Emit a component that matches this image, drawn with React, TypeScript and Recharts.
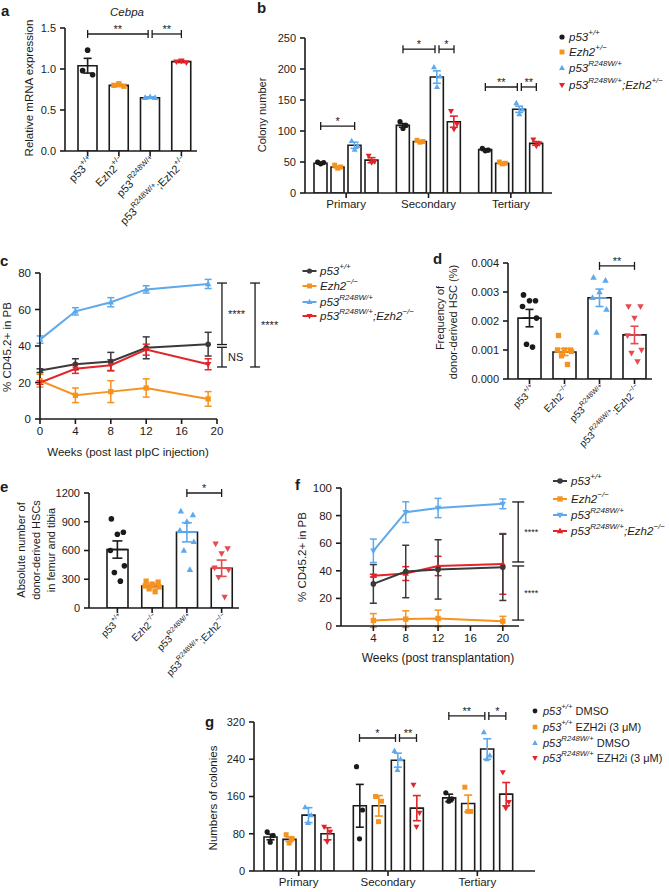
import React from 'react';
import { ComposedChart, Bar, Line, Scatter, XAxis, YAxis, ErrorBar, ReferenceLine } from 'recharts';

const FONT = '"Liberation Sans", Arial, Helvetica, sans-serif';
const SW = 669;
const SH = 1000;
const INK = '#1b1b1b';
const DARK = '#3a3a3a';
const ORANGE = '#f6921e';
const BLUE = '#5da9ec';
const RED = '#e2242b';
const RED_SOFT = '#e84a51';

const KINDS = ['circle', 'square', 'up', 'down'];

// a: Cebpa expression
const aNames = ['p53^+/+', 'Ezh2^+/−', 'p53^R248W/+', 'p53^R248W/+;Ezh2^+/−'];
const aMean = [1.04, 0.8, 0.65, 1.09];
const aSem = [0.09, 0.015, 0.01, 0.012];
const aPts = [[1.23, 0.98, 0.93], [0.82, 0.8, 0.79], [0.66, 0.65, 0.65], [1.1, 1.09, 1.08]];
const aTicks = [0, 0.5, 1, 1.5];

// b: colony number
const bCats = ['Primary', 'Secondary', 'Tertiary'];
const bP53 = [48, 109, 70];
const bEzh2 = [42, 83, 48];
const bR248 = [77, 187, 135];
const bDouble = [53, 115, 80];
const bP53Sem = [1.5, 3, 1.5];
const bEzh2Sem = [1.5, 1, 1];
const bR248Sem = [5, 10, 5];
const bDoubleSem = [4, 9, 3];
const bP53Pts = [[50, 49, 47], [115, 109, 104], [72, 69, 68]];
const bEzh2Pts = [[45, 42, 40], [85, 83, 82], [50, 48, 47]];
const bR248Pts = [[84, 76, 70], [203, 188, 171], [145, 135, 127]];
const bDoublePts = [[60, 51, 49], [132, 111, 103], [86, 80, 76]];
const bTicks = [0, 50, 100, 150, 200, 250];

// c: % CD45.2+ after pIpC
const cWeeks = [0, 4, 8, 12, 19];
const cP53 = [26.5, 30, 31.5, 39, 41];
const cP53Err = [1, 3, 5, 6, 6.5];
const cEzh2 = [21, 13, 15, 17, 11];
const cEzh2Err = [3.5, 4, 6, 5, 4];
const cR248 = [43.5, 59, 64, 71, 74];
const cR248Err = [2, 2, 2.5, 2, 2.5];
const cDouble = [20, 27.5, 29.5, 38, 30];
const cDoubleErr = [1, 2.5, 3, 3, 3];
const cXTicks = [0, 4, 8, 12, 16, 20];
const cYTicks = [0, 20, 40, 60, 80];

// d: frequency of donor-derived HSC
const dNames = ['p53^+/+', 'Ezh2^−/−', 'p53^R248W/+', 'p53^R248W/+;Ezh2^−/−'];
const dMean = [0.0021, 0.00093, 0.0028, 0.00152];
const dSem = [0.0003, 0.00012, 0.0003, 0.0003];
const dPts = [
  [0.0029, 0.0027, 0.0027, 0.0025, 0.0021, 0.0012, 0.0011],
  [0.0015, 0.001, 0.001, 0.001, 0.00095, 0.0008, 0.0005],
  [0.0035, 0.0034, 0.003, 0.0028, 0.0024, 0.0016],
  [0.0025, 0.0025, 0.0021, 0.0015, 0.001, 0.0009, 0.0006],
];
const dTicks = [0, 0.001, 0.002, 0.003, 0.004];

// e: absolute number of donor-derived HSCs
const eNames = ['p53^+/+', 'Ezh2^−/−', 'p53^R248W/+', 'p53^R248W/+;Ezh2^−/−'];
const eMean = [610, 230, 790, 415];
const eSem = [90, 20, 100, 85];
const ePts = [
  [930, 790, 770, 600, 440, 370, 280],
  [280, 270, 250, 230, 220, 200, 170],
  [1010, 970, 900, 810, 690, 600, 400],
  [670, 620, 570, 420, 400, 320, 115],
];
const eTicks = [0, 300, 600, 900, 1200];

// f: % CD45.2+ after transplantation
const fWeeks = [4, 8, 12, 20];
const fP53 = [30.5, 39.5, 41, 42.5];
const fP53Err = [14, 19, 21.5, 24];
const fEzh2 = [4, 5, 5.5, 3.5];
const fEzh2Err = [5, 6, 6, 3.5];
const fR248 = [54.5, 82.5, 85.5, 88.5];
const fR248Err = [8.5, 7.5, 7, 3.5];
const fDouble = [36.5, 38, 43.5, 45];
const fDoubleErr = [1, 5, 7, 22];
const fXTicks = [4, 8, 12, 16, 20];
const fYTicks = [0, 20, 40, 60, 80, 100];

// g: colonies with EZH2 inhibitor
const gCats = ['Primary', 'Secondary', 'Tertiary'];
const gP53Dmso = [73, 140, 157];
const gP53Ezh2i = [68, 140, 145];
const gR248Dmso = [120, 238, 262];
const gR248Ezh2i = [80, 135, 165];
const gP53DmsoSem = [6, 46, 8];
const gP53Ezh2iSem = [5, 22, 18];
const gR248DmsoSem = [16, 15, 22];
const gR248Ezh2iSem = [13, 27, 25];
const gP53DmsoPts = [[84, 76, 62], [224, 131, 69], [168, 155, 150]];
const gP53Ezh2iPts = [[78, 70, 60], [160, 150, 106], [180, 128, 128]];
const gR248DmsoPts = [[137, 120, 103], [258, 240, 217], [298, 248, 240]];
const gR248Ezh2iPts = [[95, 84, 63], [185, 125, 95], [212, 148, 135]];
const gTicks = [0, 80, 160, 240, 320];

const legendPlain = ['p53^+/+', 'Ezh2^+/−', 'p53^R248W/+', 'p53^R248W/+;Ezh2^+/−'];
const legendKO = ['p53^+/+', 'Ezh2^−/−', 'p53^R248W/+', 'p53^R248W/+;Ezh2^−/−'];
const legendDrug = ['p53^+/+| DMSO', 'p53^+/+| EZH2i (3 μM)', 'p53^R248W/+| DMSO', 'p53^R248W/+| EZH2i (3 μM)'];

const axisLine = { stroke: INK, strokeWidth: 1.6 };

function parse(label: string) {
  const parts: { t: string; sup: boolean; up: boolean }[] = [];
  let buf = '';
  let sup = false;
  let up = false;
  for (const ch of label) {
    if (ch === '^') {
      if (buf) parts.push({ t: buf, sup, up });
      buf = '';
      sup = true;
      continue;
    }
    if (ch === '|') {
      if (buf) parts.push({ t: buf, sup, up });
      buf = '';
      sup = false;
      up = true;
      continue;
    }
    if (sup && (ch === ';' || ch === ' ')) {
      parts.push({ t: buf, sup, up });
      buf = '';
      sup = false;
    }
    buf += ch;
  }
  if (buf) parts.push({ t: buf, sup, up });
  return parts;
}

function spans(label: string, fs: number) {
  let shift = 0;
  return parse(label).map((p, i) => {
    const target = p.sup ? -0.42 * fs : 0;
    const dy = target - shift;
    shift = target;
    return (
      <tspan key={i} dy={dy} fontSize={p.sup ? fs * 0.7 : fs} fontStyle={p.up ? 'normal' : undefined}>
        {p.t}
      </tspan>
    );
  });
}

function Marker({ kind, cx, cy, color, s }: { kind: string; cx: number; cy: number; color: string; s: number }) {
  if (kind === 'circle') return <circle cx={cx} cy={cy} r={s} fill={color} />;
  if (kind === 'square') return <rect x={cx - s * 0.95} y={cy - s * 0.95} width={s * 1.9} height={s * 1.9} fill={color} />;
  if (kind === 'up')
    return <path d={`M${cx},${cy - s * 1.25}L${cx + s * 1.15},${cy + s * 0.8}L${cx - s * 1.15},${cy + s * 0.8}Z`} fill={color} />;
  return <path d={`M${cx},${cy + s * 1.25}L${cx + s * 1.15},${cy - s * 0.8}L${cx - s * 1.15},${cy - s * 0.8}Z`} fill={color} />;
}

function RotTick(props: any) {
  const { x, y, payload, fs } = props;
  const ax = x + 4;
  const ay = y + 1;
  return (
    <text x={ax} y={ay} transform={`rotate(-45 ${ax} ${ay})`} textAnchor="end" dominantBaseline="central" fontSize={fs} fill={INK}>
      {spans(String(payload.value), fs)}
    </text>
  );
}

function hBracket(key: string, xa: number, xb: number, y: number, text: string, capY: number, fs: number) {
  const common = { stroke: INK, strokeWidth: 1.3, ifOverflow: 'visible' as const, xAxisId: 'n' };
  return [
    <ReferenceLine
      key={key + 'h'}
      {...common}
      segment={[{ x: xa, y }, { x: xb, y }]}
      label={{ value: text, position: 'top', offset: 1, fill: INK, fontSize: fs }}
    />,
    <ReferenceLine key={key + 'a'} {...common} segment={[{ x: xa, y: y - capY }, { x: xa, y: y + capY }]} />,
    <ReferenceLine key={key + 'b'} {...common} segment={[{ x: xb, y: y - capY }, { x: xb, y: y + capY }]} />,
  ];
}

function vBracket(key: string, x: number, ya: number, yb: number, text: string, capX: number, fs: number) {
  const common = { stroke: INK, strokeWidth: 1.3, ifOverflow: 'visible' as const };
  return [
    <ReferenceLine
      key={key + 'v'}
      {...common}
      segment={[{ x, y: ya }, { x, y: yb }]}
      label={{ value: text, position: 'right', offset: 6, fill: INK, fontSize: fs }}
    />,
    <ReferenceLine key={key + 'a'} {...common} segment={[{ x: x - capX, y: ya }, { x: x + capX, y: ya }]} />,
    <ReferenceLine key={key + 'b'} {...common} segment={[{ x: x - capX, y: yb }, { x: x + capX, y: yb }]} />,
  ];
}

type Sig = { from: number; to: number; y: number; text: string };

function SingleBars(props: any) {
  const { names, mean, sem, pts, box, padL, yMax, yTicks, fmt, barSize, cap, meanHalf, colors, ms, jit, sig, sigFs, tickFs } = props;
  const [x0, y0, x1, y1] = box;
  const yw = 40;
  const xh = 60;
  const pad = { left: padL, right: 0 };
  const rows = names.map((name: string, i: number) => ({ name, v: mean[i] }));
  const upp = names.length / (x1 - x0 - padL);
  const capY = (4 * yMax) / (y1 - y0);
  const shared = (i: number) => sig.filter((s: Sig) => s.from === i || s.to === i).length > 1;
  return (
    <div style={{ position: 'absolute', left: 0, top: 0 }}>
      <ComposedChart width={SW} height={SH} data={rows} margin={{ top: y0, left: x0 - yw, right: SW - x1, bottom: SH - y1 - xh }}>
        <XAxis
          dataKey="name"
          height={xh}
          padding={pad}
          axisLine={axisLine}
          tickLine={axisLine}
          tickSize={5}
          interval={0}
          tick={(t: any) => <RotTick {...t} fs={tickFs} />}
        />
        <XAxis xAxisId="n" dataKey="x" type="number" domain={[0, names.length]} allowDataOverflow hide padding={pad} />
        <YAxis
          width={yw}
          domain={[0, yMax]}
          ticks={yTicks}
          interval={0}
          allowDataOverflow
          tickFormatter={fmt}
          axisLine={axisLine}
          tickLine={axisLine}
          tickSize={5}
          tickMargin={4}
          tick={{ fill: INK, fontSize: 11 }}
        />
        <Bar dataKey="v" fill="#ffffff" stroke={INK} strokeWidth={1.6} barSize={barSize} isAnimationActive={false} />
        {mean.map((m: number, i: number) => (
          <Scatter
            key={'m' + i}
            xAxisId="n"
            dataKey="y"
            data={[{ x: i + 0.5, y: m, e: sem[i] }]}
            isAnimationActive={false}
            shape={(p: any) =>
              meanHalf > 0 ? (
                <line x1={p.cx - meanHalf} x2={p.cx + meanHalf} y1={p.cy} y2={p.cy} stroke={colors[i]} strokeWidth={1.6} />
              ) : (
                <g />
              )
            }
          >
            <ErrorBar dataKey="e" direction="y" width={cap} stroke={colors[i]} strokeWidth={1.6} />
          </Scatter>
        ))}
        {pts.map((list: number[], i: number) => (
          <Scatter
            key={'p' + i}
            xAxisId="n"
            dataKey="y"
            data={list.map((y, k) => ({ x: i + 0.5, y, k }))}
            isAnimationActive={false}
            shape={(p: any) => <Marker kind={KINDS[i]} cx={p.cx + jit[p.payload.k % jit.length]} cy={p.cy} color={colors[i]} s={ms} />}
          />
        ))}
        {sig.flatMap((b: Sig, i: number) => {
          const xa = b.from + 0.5 + (shared(b.from) ? 2 * upp : 0);
          const xb = b.to + 0.5 - (shared(b.to) ? 2 * upp : 0);
          return hBracket('s' + i, xa, xb, b.y, b.text, capY, sigFs);
        })}
      </ComposedChart>
    </div>
  );
}

type GSig = { g: number; from: number; to: number; y: number; text: string; na?: number; nb?: number };

function GroupBars(props: any) {
  const { means, sems, pts, box, padR, yMax, yTicks, barSize, gap, colors, ms, jit, sig, sigFs, cats } = props;
  const [x0, y0, x1, y1] = box;
  const yw = 40;
  const xh = 20;
  const pad = { left: 0, right: padR };
  const band = (x1 - x0 - padR) / cats.length;
  const step = barSize + gap;
  const off = (s: number) => (s - (means.length - 1) / 2) * step;
  const capY = (4 * yMax) / (y1 - y0);
  const rows = cats.map((name: string, g: number) => {
    const r: any = { name };
    means.forEach((m: number[], s: number) => {
      r['m' + s] = m[g];
      r['e' + s] = sems[s][g];
    });
    return r;
  });
  return (
    <div style={{ position: 'absolute', left: 0, top: 0 }}>
      <ComposedChart
        width={SW}
        height={SH}
        data={rows}
        barGap={gap}
        margin={{ top: y0, left: x0 - yw, right: SW - x1, bottom: SH - y1 - xh }}
      >
        <XAxis dataKey="name" height={xh} padding={pad} axisLine={axisLine} tickLine={axisLine} tickSize={5} interval={0} tick={{ fill: INK, fontSize: 11.5 }} />
        <XAxis xAxisId="n" dataKey="x" type="number" domain={[0, cats.length]} allowDataOverflow hide padding={pad} />
        <YAxis
          width={yw}
          domain={[0, yMax]}
          ticks={yTicks}
          interval={0}
          allowDataOverflow
          axisLine={axisLine}
          tickLine={axisLine}
          tickSize={5}
          tickMargin={4}
          tick={{ fill: INK, fontSize: 11 }}
        />
        {means.map((_: number[], s: number) => (
          <Bar key={'b' + s} dataKey={'m' + s} barSize={barSize} fill="#ffffff" stroke={INK} strokeWidth={1.6} isAnimationActive={false}>
            <ErrorBar dataKey={'e' + s} direction="y" width={4} stroke={colors[s]} strokeWidth={1.6} />
          </Bar>
        ))}
        {pts.map((perGroup: number[][], s: number) => (
          <Scatter
            key={'p' + s}
            xAxisId="n"
            dataKey="y"
            data={perGroup.flatMap((vals, g) => vals.map((y, k) => ({ x: g + 0.5, y, k })))}
            isAnimationActive={false}
            shape={(p: any) => (
              <Marker kind={KINDS[s]} cx={p.cx + off(s) + jit[p.payload.k % jit.length]} cy={p.cy} color={colors[s]} s={ms} />
            )}
          />
        ))}
        {sig.flatMap((b: GSig, i: number) => {
          const xa = b.g + 0.5 + (off(b.from) + (b.na ?? 0)) / band;
          const xb = b.g + 0.5 + (off(b.to) + (b.nb ?? 0)) / band;
          return hBracket('s' + i, xa, xb, b.y, b.text, capY, sigFs);
        })}
      </ComposedChart>
    </div>
  );
}

function LinePanel(props: any) {
  const { xs, series, errs, order, box, xMax, xTicks, yMax, yTicks, colors, kinds, ms, vsig, sigFs, capPx } = props;
  const [x0, y0, x1, y1] = box;
  const yw = 40;
  const xh = 30;
  const capX = (capPx * xMax) / (x1 - x0);
  const rows = xs.map((w: number, i: number) => {
    const r: any = { w };
    series.forEach((s: number[], k: number) => {
      r['s' + k] = s[i];
      r['e' + k] = errs[k][i];
    });
    return r;
  });
  return (
    <div style={{ position: 'absolute', left: 0, top: 0 }}>
      <ComposedChart width={SW} height={SH} data={rows} margin={{ top: y0, left: x0 - yw, right: SW - x1, bottom: SH - y1 - xh }}>
        <XAxis
          dataKey="w"
          type="number"
          domain={[0, xMax]}
          ticks={xTicks}
          interval={0}
          allowDataOverflow
          height={xh}
          axisLine={axisLine}
          tickLine={axisLine}
          tickSize={5}
          tickMargin={3}
          tick={{ fill: INK, fontSize: 11.5 }}
        />
        <YAxis
          width={yw}
          domain={[0, yMax]}
          ticks={yTicks}
          interval={0}
          allowDataOverflow
          axisLine={axisLine}
          tickLine={axisLine}
          tickSize={5}
          tickMargin={4}
          tick={{ fill: INK, fontSize: 11.5 }}
        />
        {order.map((k: number) => (
          <Line
            key={'l' + k}
            dataKey={'s' + k}
            stroke={colors[k]}
            strokeWidth={2}
            isAnimationActive={false}
            activeDot={false}
            dot={(d: any) => <Marker key={'d' + k + '-' + d.index} kind={kinds[k]} cx={d.cx} cy={d.cy} color={colors[k]} s={ms} />}
          >
            <ErrorBar dataKey={'e' + k} direction="y" width={3.5} stroke={colors[k]} strokeWidth={1.5} />
          </Line>
        ))}
        {vsig.flatMap((b: any, i: number) => vBracket('v' + i, b.x, b.ya, b.yb, b.text, capX, sigFs))}
      </ComposedChart>
    </div>
  );
}

function Txt({ x, y, fs = 11, rot = 0, italic = false, bold = false, anchor = 'middle', children }: any) {
  return (
    <text
      x={x}
      y={y}
      fontSize={fs}
      textAnchor={anchor}
      dominantBaseline="central"
      fontStyle={italic ? 'italic' : 'normal'}
      fontWeight={bold ? 'bold' : 'normal'}
      transform={rot ? `rotate(${rot} ${x} ${y})` : undefined}
      fill={INK}
    >
      {children}
    </text>
  );
}

function Legend({ labels, colors, kinds, mx, tx, rows, fs, ms, half }: any) {
  return (
    <g>
      {labels.map((lab: string, i: number) => (
        <g key={i}>
          {half ? <line x1={mx - half} x2={mx + half} y1={rows[i]} y2={rows[i]} stroke={colors[i]} strokeWidth={2} /> : null}
          <Marker kind={kinds[i]} cx={mx} cy={rows[i]} color={colors[i]} s={ms} />
          <text x={tx} y={rows[i]} fontSize={fs} fontStyle="italic" dominantBaseline="central" fill={INK}>
            {spans(lab, fs)}
          </text>
        </g>
      ))}
    </g>
  );
}

function Overlay() {
  return (
    <svg width={SW} height={892} style={{ position: 'absolute', left: 0, top: 0, pointerEvents: 'none' }}>
      <Txt x={1} y={10} fs={15} bold anchor="start">a</Txt>
      <Txt x={257} y={7} fs={15} bold anchor="start">b</Txt>
      <Txt x={0} y={260} fs={15} bold anchor="start">c</Txt>
      <Txt x={433} y={258} fs={15} bold anchor="start">d</Txt>
      <Txt x={0} y={486} fs={15} bold anchor="start">e</Txt>
      <Txt x={295} y={484} fs={15} bold anchor="start">f</Txt>
      <Txt x={205} y={721} fs={15} bold anchor="start">g</Txt>

      <Txt x={127} y={12} fs={11.5} italic>Cebpa</Txt>
      <Txt x={29} y={88} fs={11.5} rot={-90}>Relative mRNA expression</Txt>
      <Txt x={262} y={115} fs={11} rot={-90}>Colony number</Txt>
      <Txt x={7} y={347} fs={11.5} rot={-90}>% CD45.2+ in PB</Txt>
      <Txt x={128} y={452} fs={11.5}>Weeks (post last pIpC injection)</Txt>
      <Txt x={440} y={318} fs={11} rot={-90}>Frequency of</Txt>
      <Txt x={453} y={322} fs={11} rot={-90}>donor-derived HSC (%)</Txt>
      <Txt x={21} y={550} fs={11} rot={-90}>Absolute number of</Txt>
      <Txt x={36} y={550} fs={11} rot={-90}>donor-derived HSCs</Txt>
      <Txt x={51} y={550} fs={11} rot={-90}>in femur and tibia</Txt>
      <Txt x={302} y={557} fs={11.5} rot={-90}>% CD45.2+ in PB</Txt>
      <Txt x={438} y={658} fs={12}>Weeks (post transplantation)</Txt>
      <Txt x={213} y={798} fs={11.5} rot={-90}>Numbers of colonies</Txt>

      <Legend labels={legendPlain} colors={[INK, ORANGE, BLUE, RED]} kinds={KINDS} mx={562} tx={569} rows={[37, 52, 68, 85]} fs={11.5} ms={2.6} />
      <Legend labels={legendKO} colors={[DARK, ORANGE, BLUE, RED]} kinds={KINDS} mx={309.5} tx={320} rows={[271, 286, 302, 316]} fs={11.5} ms={2.6} half={7} />
      <Legend
        labels={legendKO}
        colors={[DARK, ORANGE, BLUE, RED]}
        kinds={['circle', 'square', 'down', 'up']}
        mx={560}
        tx={571}
        rows={[481, 499, 515, 531]}
        fs={11.5}
        ms={2.8}
        half={7}
      />
      <Legend labels={legendDrug} colors={[INK, ORANGE, BLUE, RED]} kinds={KINDS} mx={535} tx={543} rows={[711, 727, 743, 758]} fs={11} ms={2.4} />
    </svg>
  );
}

export default function App() {
  return (
    <div style={{ position: 'absolute', left: 0, top: 0, width: SW, height: 892, overflow: 'hidden', background: '#ffffff', fontFamily: FONT }}>
      <SingleBars
        names={aNames}
        mean={aMean}
        sem={aSem}
        pts={aPts}
        box={[65, 28, 197, 151]}
        padL={7}
        yMax={1.5}
        yTicks={aTicks}
        fmt={(v: number) => v.toFixed(1)}
        barSize={19}
        cap={4}
        meanHalf={0}
        colors={[INK, ORANGE, BLUE, RED]}
        ms={2.8}
        jit={[0, -5, 5]}
        sig={[
          { from: 0, to: 2, y: 1.427, text: '**' },
          { from: 2, to: 3, y: 1.427, text: '**' },
        ]}
        sigFs={11}
        tickFs={11}
      />
      <GroupBars
        cats={bCats}
        means={[bP53, bEzh2, bR248, bDouble]}
        sems={[bP53Sem, bEzh2Sem, bR248Sem, bDoubleSem]}
        pts={[bP53Pts, bEzh2Pts, bR248Pts, bDoublePts]}
        box={[305, 38, 552, 193]}
        padR={0}
        yMax={250}
        yTicks={bTicks}
        barSize={13}
        gap={4}
        colors={[INK, ORANGE, BLUE, RED]}
        ms={2.6}
        jit={[-3, 3, 0]}
        sig={[
          { g: 0, from: 0, to: 2, y: 108, text: '*' },
          { g: 1, from: 0, to: 2, y: 232, text: '*', nb: -2 },
          { g: 1, from: 2, to: 3, y: 232, text: '*', na: 2 },
          { g: 2, from: 0, to: 2, y: 171, text: '**', nb: -2 },
          { g: 2, from: 2, to: 3, y: 171, text: '**', na: 2 },
        ]}
        sigFs={11}
      />
      <LinePanel
        xs={cWeeks}
        series={[cP53, cEzh2, cR248, cDouble]}
        errs={[cP53Err, cEzh2Err, cR248Err, cDoubleErr]}
        order={[0, 1, 2, 3]}
        box={[40, 273, 217, 419]}
        xMax={20}
        xTicks={cXTicks}
        yMax={80}
        yTicks={cYTicks}
        colors={[DARK, ORANGE, BLUE, RED]}
        kinds={['circle', 'square', 'up', 'down']}
        ms={2.8}
        vsig={[
          { x: 20.56, ya: 74.5, yb: 40.8, text: '****' },
          { x: 20.56, ya: 39.3, yb: 28.5, text: 'NS' },
          { x: 24.3, ya: 74.5, yb: 28.5, text: '****' },
        ]}
        sigFs={11}
        capPx={5}
      />
      <SingleBars
        names={dNames}
        mean={dMean}
        sem={dSem}
        pts={dPts}
        box={[508, 263, 652, 379]}
        padL={4}
        yMax={0.004}
        yTicks={dTicks}
        fmt={(v: number) => v.toFixed(3)}
        barSize={23}
        cap={4}
        meanHalf={7}
        colors={[INK, ORANGE, BLUE, RED_SOFT]}
        ms={2.8}
        jit={[-6, 6, 0, -7, 7, -3, 3]}
        sig={[{ from: 2, to: 3, y: 0.0039, text: '**' }]}
        sigFs={11}
        tickFs={10}
      />
      <SingleBars
        names={eNames}
        mean={eMean}
        sem={eSem}
        pts={ePts}
        box={[89, 493, 239, 608]}
        padL={11}
        yMax={1200}
        yTicks={eTicks}
        barSize={21}
        cap={5}
        meanHalf={10}
        colors={[INK, ORANGE, BLUE, RED_SOFT]}
        ms={2.8}
        jit={[-6, 6, 0, -7, 7, -3, 3]}
        sig={[{ from: 2, to: 3, y: 1200, text: '*' }]}
        sigFs={11}
        tickFs={10}
      />
      <LinePanel
        xs={fWeeks}
        series={[fP53, fEzh2, fR248, fDouble]}
        errs={[fP53Err, fEzh2Err, fR248Err, fDoubleErr]}
        order={[3, 1, 2, 0]}
        box={[341, 488, 519, 626]}
        xMax={22}
        xTicks={fXTicks}
        yMax={100}
        yTicks={fYTicks}
        colors={[DARK, ORANGE, BLUE, RED]}
        kinds={['circle', 'square', 'down', 'up']}
        ms={2.8}
        vsig={[
          { x: 21.9, ya: 89.9, yb: 46.4, text: '****' },
          { x: 21.9, ya: 43.5, yb: 4.3, text: '****' },
        ]}
        sigFs={9}
        capPx={6}
      />
      <GroupBars
        cats={gCats}
        means={[gP53Dmso, gP53Ezh2i, gR248Dmso, gR248Ezh2i]}
        sems={[gP53DmsoSem, gP53Ezh2iSem, gR248DmsoSem, gR248Ezh2iSem]}
        pts={[gP53DmsoPts, gP53Ezh2iPts, gR248DmsoPts, gR248Ezh2iPts]}
        box={[254, 722, 535, 871]}
        padR={13}
        yMax={320}
        yTicks={gTicks}
        barSize={13}
        gap={6}
        colors={[INK, ORANGE, BLUE, RED]}
        ms={2.6}
        jit={[-3, 3, 0]}
        sig={[
          { g: 1, from: 0, to: 2, y: 285.6, text: '*', nb: -2 },
          { g: 1, from: 2, to: 3, y: 285.6, text: '**', na: 2 },
          { g: 2, from: 0, to: 2, y: 333, text: '**', nb: -2 },
          { g: 2, from: 2, to: 3, y: 333, text: '*', na: 2 },
        ]}
        sigFs={11}
      />
      <Overlay />
    </div>
  );
}
